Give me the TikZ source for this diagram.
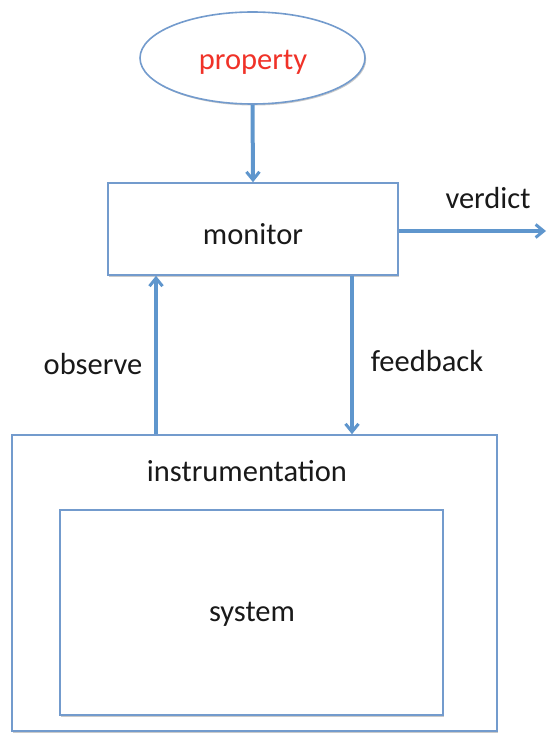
\documentclass[tikz,border=0pt]{standalone}
\usepackage{fontspec}
\setmainfont{Carlito}
\usetikzlibrary{shapes.geometric,arrows.meta,shadows}
\definecolor{boxblue}{RGB}{115,155,205}
\definecolor{arrblue}{RGB}{95,150,205}
\definecolor{propred}{RGB}{240,50,40}
\begin{document}
\begin{tikzpicture}[x=1pt,y=1pt,
  every node/.style={font=\fontsize{30.5}{36}\selectfont, text=black!90},
  boxst/.style={draw=boxblue, line width=1.6pt, fill=white, rectangle, inner sep=0pt,
     drop shadow={shadow xshift=1.2pt, shadow yshift=-1.5pt, opacity=0.35, fill=black!60}},
  arr/.style={draw=arrblue, line width=4pt, -{Straight Barb[length=8pt,width=13pt,line width=3pt]}},
  lbl/.style={inner sep=0pt}]
\useasboundingbox (0,0) rectangle (546,-733);
\node[boxst, ellipse, minimum width=225, minimum height=92] (prop) at (252.5,-58) {};
\node[lbl, text=propred] (proptext) at (253,-62) {property};
\node[boxst, minimum width=290, minimum height=92] (mon) at (253,-229) {};
\node[lbl] (montext) at (253,-234) {monitor};
\node[boxst, minimum width=485, minimum height=296] (instr) at (254.5,-583) {};
\node[lbl] (instrtext) at (247,-471) {instrumentation};
\node[boxst, minimum width=383, minimum height=205] (sys) at (251.5,-612.5) {};
\node[lbl] (systext) at (252,-614) {system};
\node[lbl] (obs) at (93,-364) {observe};
\node[lbl] (fb) at (427,-361) {feedback};
\node[lbl] (ver) at (488,-198) {verdict};
\coordinate (vend) at (546,-231);
\coordinate (obsx) at (156,0);
\coordinate (fbx) at (352,0);
\draw[arr] (prop.south) -- (mon.north);
\draw[arr] (mon.east |- vend) -- (vend);
\draw[arr] (instr.north -| obsx) -- (mon.south -| obsx);
\draw[arr] (mon.south -| fbx) -- (instr.north -| fbx);
\end{tikzpicture}
\end{document}
